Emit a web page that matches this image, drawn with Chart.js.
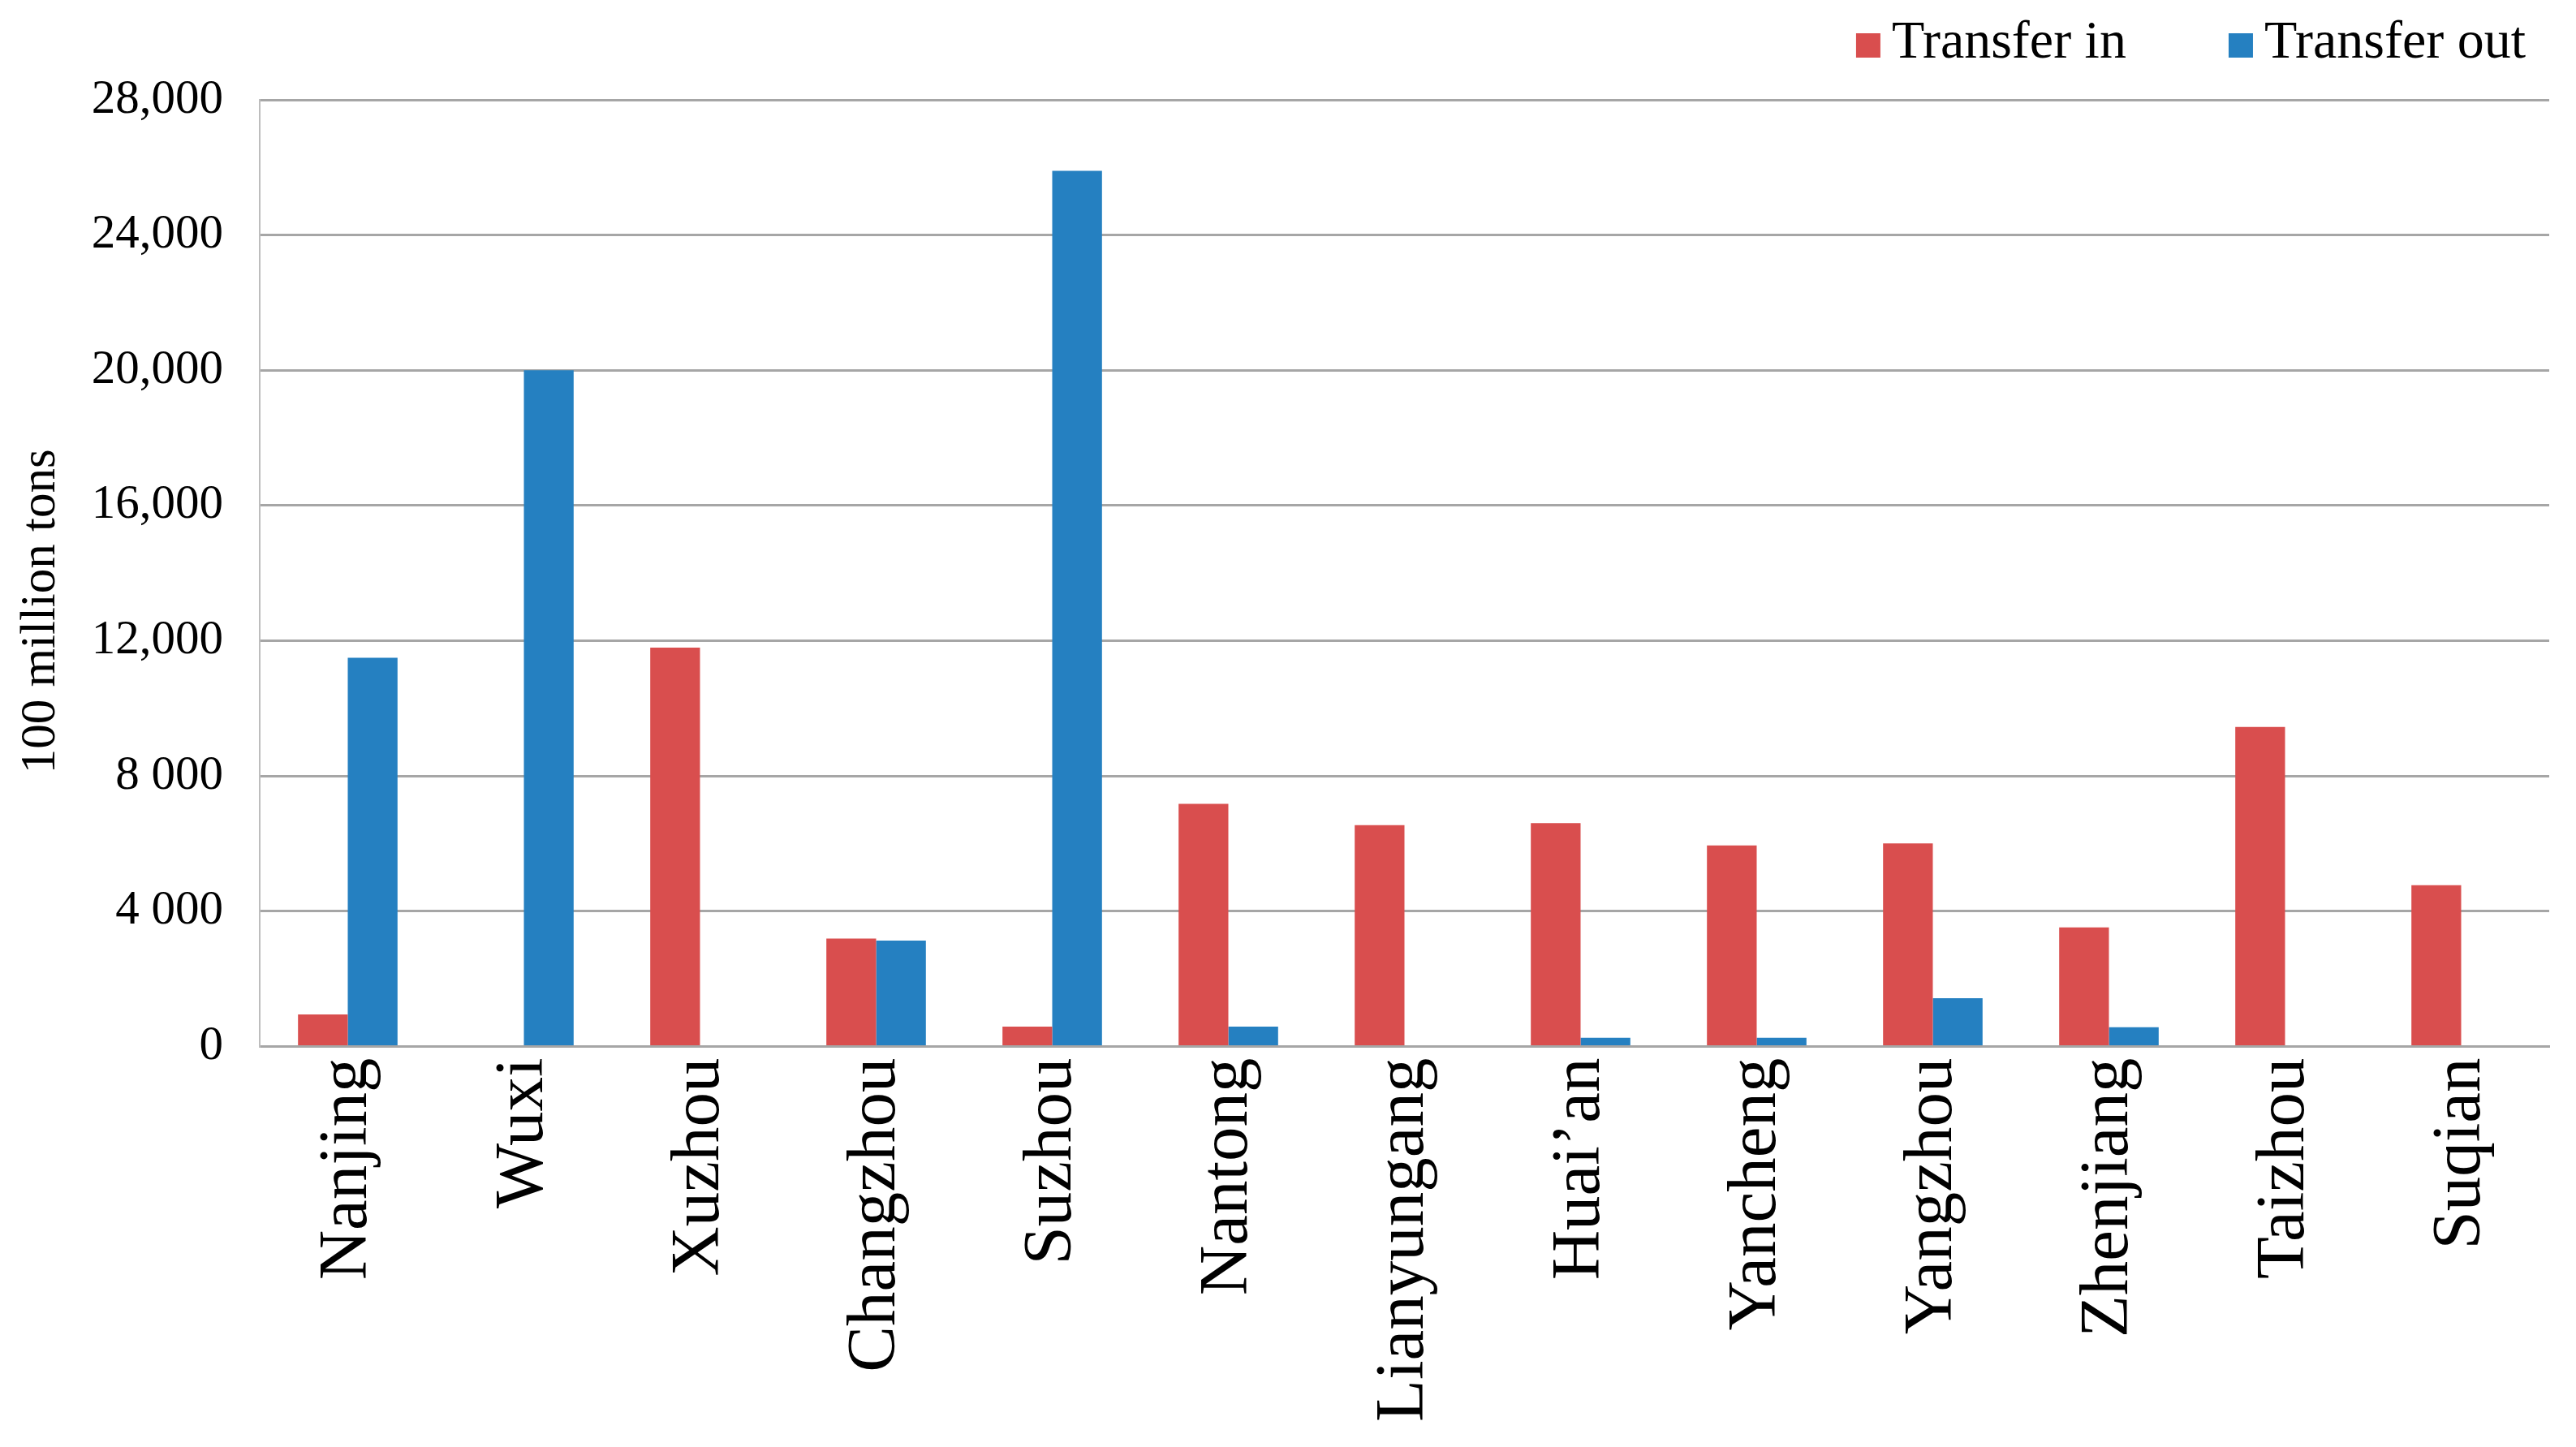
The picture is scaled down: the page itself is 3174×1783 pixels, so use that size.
<!DOCTYPE html>
<html>
<head>
<meta charset="utf-8">
<script src="https://cdn.jsdelivr.net/npm/chart.js@4"></script>
<style>
  html, body { margin: 0; padding: 0; background: #ffffff; }
  #wrap { width: 3174px; height: 1783px; position: relative; }
</style>
</head>
<body>
<div id="wrap"><canvas id="c"></canvas></div>
<script>
const categories = ['Nanjing', 'Wuxi', 'Xuzhou', 'Changzhou', 'Suzhou', 'Nantong', 'Lianyungang', 'Huai\u2019an', 'Yancheng', 'Yangzhou', 'Zhenjiang', 'Taizhou', 'Suqian'];
const transferIn  = [950, 0, 11800, 3190, 590, 7180, 6550, 6610, 5950, 6010, 3520, 9450, 4770];
const transferOut = [11500, 20000, 0, 3130, 25900, 590, 0, 260, 260, 1430, 570, 0, 0];
const yTickLabels = ['0', '4 000', '8 000', '12,000', '16,000', '20,000', '24,000', '28,000'];
const seriesNames = ['Transfer in', 'Transfer out'];
const seriesColors = ['#D94E4E', '#2580C1'];
const yTitle = '100 million tons';

const FONT = '"Liberation Serif", "Times New Roman", serif';

// legend drawn at the top right, from the dataset labels and colours
const topLegend = {
  id: 'topLegend',
  afterDraw(chart) {
    const ctx = chart.ctx;
    ctx.save();
    ctx.font = '66px ' + FONT;
    ctx.textBaseline = 'alphabetic';
    ctx.textAlign = 'left';
    const box = 30, gapText = 14, gapItem = 126;
    const items = chart.data.datasets.map(d => ({ label: d.label, color: d.backgroundColor, w: ctx.measureText(d.label).width }));
    const total = items.reduce((s, it) => s + box + gapText + it.w, 0) + gapItem * (items.length - 1);
    let x = chart.width - 62 - total;
    items.forEach(it => {
      ctx.fillStyle = it.color;
      ctx.fillRect(x, 41, box, box);
      ctx.fillStyle = '#000';
      ctx.fillText(it.label, x + box + gapText, 71);
      x += box + gapText + it.w + gapItem;
    });
    ctx.restore();
  }
};

// y-axis title, placed slightly below the middle of the axis as in the original
const yAxisTitle = {
  id: 'yAxisTitle',
  afterDraw(chart) {
    const ctx = chart.ctx;
    const area = chart.chartArea;
    ctx.save();
    ctx.font = '61px ' + FONT;
    ctx.fillStyle = '#000';
    ctx.textAlign = 'center';
    ctx.textBaseline = 'middle';
    ctx.translate(51, (area.top + area.bottom) / 2 + 47);
    ctx.rotate(-Math.PI / 2);
    ctx.fillText(yTitle, 0, 0);
    ctx.restore();
  }
};

new Chart(document.getElementById('c'), {
  type: 'bar',
  data: {
    labels: categories,
    datasets: [
      { label: seriesNames[0], data: transferIn, backgroundColor: seriesColors[0], borderWidth: 0, barPercentage: 1, categoryPercentage: 0.565 },
      { label: seriesNames[1], data: transferOut, backgroundColor: seriesColors[1], borderWidth: 0, barPercentage: 1, categoryPercentage: 0.565 }
    ]
  },
  options: {
    responsive: true,
    maintainAspectRatio: false,
    animation: false,
    devicePixelRatio: 1,
    layout: { padding: { top: 123, right: 33, bottom: 17, left: 0 } },
    plugins: {
      legend: { display: false },
      tooltip: { enabled: false },
      title: { display: false }
    },
    scales: {
      x: {
        grid: { display: false, drawTicks: false },
        border: { display: true, color: '#A6A6A6', width: 3 },
        ticks: {
          autoSkip: false,
          maxRotation: 90,
          minRotation: 90,
          padding: 14,
          color: '#000',
          font: { family: FONT, size: 85 }
        }
      },
      y: {
        min: 0,
        max: 28000,
        afterFit: (scale) => { scale.width = 320; },
        grid: { color: '#A6A6A6', lineWidth: 3, drawTicks: false },
        border: { display: true, color: '#BDBDBD', width: 2 },
        ticks: {
          stepSize: 4000,
          padding: 45,
          color: '#000',
          font: { family: FONT, size: 59 },
          callback: (v, i) => yTickLabels[i]
        },
        title: { display: false }
      }
    }
  },
  plugins: [topLegend, yAxisTitle]
});
</script>
</body>
</html>
